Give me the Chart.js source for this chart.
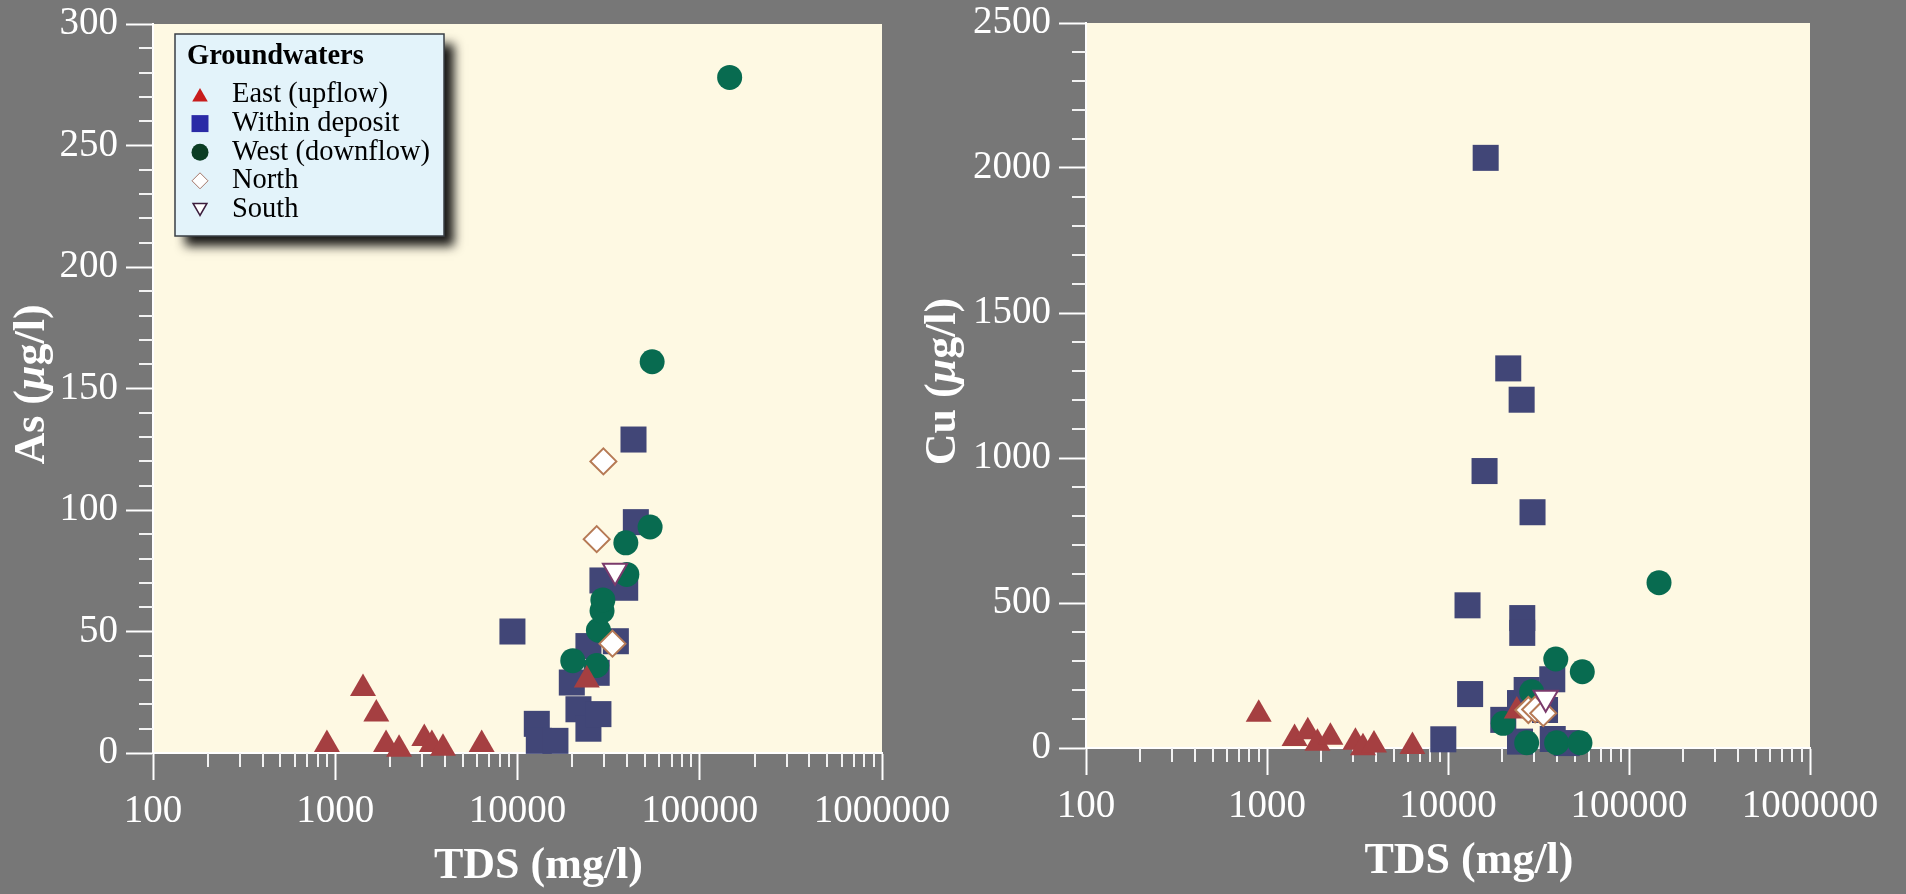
<!DOCTYPE html>
<html>
<head>
<meta charset="utf-8">
<title>Groundwaters - As and Cu against TDS</title>
<script src="https://cdn.jsdelivr.net/npm/chart.js@4.4.1/dist/chart.umd.min.js"></script>
<style>
  html, body { margin: 0; padding: 0; background: #777777; overflow: hidden; }
  canvas { position: absolute; top: 0; }
  #asChart { left: 0; }
  #cuChart { left: 900px; }
</style>
</head>
<body>
<canvas id="asChart" width="953" height="894"></canvas>
<canvas id="cuChart" width="1006" height="894"></canvas>
<script>
// ---- sample data (TDS in mg/l, metals in ug/l) ----
const tdsTicks = [100, 1000, 10000, 100000, 1000000];

// East (upflow) - same samples on both plots
const eastTds = [900, 1420, 1680, 1900, 2240, 3080, 3390, 3900, 6360, 24000];
const eastAs  = [3.5, 26.5, 16, 3.5, 1.5, 6, 3.5, 2, 3.5, 30];
const eastCu  = [116, 33, 56, 16, 37, 20, 1, 10, 5, 128];

// Within deposit
const withinTdsAs = [9380, 12760, 13090, 16150, 19860, 21600, 24500, 24500, 27200, 27800, 29240, 34650, 38990, 43300, 44600];
const withinAs    = [50, 12, 5, 5, 29, 18, 44, 10, 33, 16, 71, 46, 68, 129, 95];
const withinTdsCu = [9420, 12820, 13250, 15920, 16150, 20200, 21520, 25000, 25000, 25520, 25720, 25720, 27200, 29310, 34360, 37680, 37900, 45300];
const withinCu    = [30, 492, 186, 955, 2035, 97, 1309, 155, 22, 1201, 448, 397, 200, 813, 131, 237, 31, 17];

// West (downflow)
const westTdsAs = [20100, 27200, 27800, 29100, 29400, 39300, 39800, 53400, 54800, 145900];
const westAs    = [38, 36, 50.5, 58.5, 63, 86.5, 73.5, 93, 161, 278];
const westTdsCu = [20200, 27200, 28980, 39400, 39800, 53600, 55200, 146500];
const westCu    = [85, 18, 194, 307, 18, 18, 263, 570];

// North / South
const northTdsAs = [27200, 29600, 33200];
const northAs    = [88, 120, 45];
const northTdsCu = [27800, 30300, 33600];
const northCu    = [131, 133, 120];
const southTdsAs = [34300];
const southAs    = [75];
const southTdsCu = [34650];
const southCu    = [173];

const SERIF = "'Liberation Serif', 'Times New Roman', serif";

function pts(xs, ys) {
  return xs.map((x, i) => ({ x: x, y: ys[i] }));
}

// marker styles, plot + legend swatch
const groups = [
  { label: 'East (upflow)', style: 'triangle', r: 15, fill: '#a53f41', line: '#a53f41', bw: 0, order: 3,
    key: { r: 9, fill: '#c81c1c', line: '#c81c1c', bw: 0 } },
  { label: 'Within deposit', style: 'rect', r: 18.4, fill: '#414677', line: '#414677', bw: 0, order: 5,
    key: { r: 12, fill: '#2a2aa6', line: '#2a2aa6', bw: 0 } },
  { label: 'West (downflow)', style: 'circle', r: 12.5, fill: '#086b50', line: '#086b50', bw: 0, order: 4,
    key: { r: 8.5, fill: '#0b3d24', line: '#0b3d24', bw: 0 } },
  { label: 'North', style: 'rectRot', r: 13, fill: '#ffffff', line: '#b67a55', bw: 2, order: 2,
    key: { r: 8, fill: '#ffffff', line: '#a5776a', bw: 1 } },
  { label: 'South', style: 'triangle', rot: 180, r: 14, fill: '#ffffff', line: '#7a3a6c', bw: 2, order: 1,
    key: { r: 8, fill: '#ffffff', line: '#3c1d3c', bw: 1.5 } }
];

function buildSets(series) {
  return groups.map((g, i) => ({
    label: g.label,
    data: series[i],
    order: g.order,
    clip: false,
    pointStyle: g.style,
    pointRotation: g.rot || 0,
    pointRadius: g.r,
    pointHoverRadius: g.r,
    pointBackgroundColor: g.fill,
    pointBorderColor: g.line,
    pointBorderWidth: g.bw,
    showLine: false
  }));
}

// cream plotting area
const plotBg = {
  id: 'plotBg',
  beforeDraw(chart) {
    const a = chart.chartArea, ctx = chart.ctx;
    ctx.save();
    ctx.fillStyle = '#fef9e3';
    ctx.fillRect(a.left, a.top, a.right - a.left, a.bottom - a.top);
    ctx.restore();
  }
};

// short minor ticks on both axes
const minorTicks = {
  id: 'minorTicks',
  beforeDatasetsDraw(chart, args, opts) {
    const ctx = chart.ctx, a = chart.chartArea;
    const xs = chart.scales.x, ys = chart.scales.y;
    ctx.save();
    ctx.strokeStyle = '#f2f2f2';
    ctx.lineWidth = 2;
    ctx.beginPath();
    for (let d = xs.min; d < xs.max; d *= 10) {
      for (let k = 2; k <= 9; k++) {
        const px = Math.round(xs.getPixelForValue(d * k));
        ctx.moveTo(px, a.bottom);
        ctx.lineTo(px, a.bottom + opts.length);
      }
    }
    for (let v = ys.min; v <= ys.max; v += opts.yStep) {
      if (v % opts.yMajor === 0) continue;
      const py = Math.round(ys.getPixelForValue(v));
      ctx.moveTo(a.left, py);
      ctx.lineTo(a.left - opts.length, py);
    }
    ctx.stroke();
    ctx.restore();
  }
};

// axis titles (y title has an italic mu)
const axisTitles = {
  id: 'axisTitles',
  afterDraw(chart, args, opts) {
    const ctx = chart.ctx, a = chart.chartArea;
    ctx.save();
    ctx.fillStyle = '#ffffff';
    ctx.textBaseline = 'middle';
    ctx.textAlign = 'center';
    ctx.font = 'bold 44px ' + SERIF;
    ctx.fillText(opts.x, (a.left + a.right) / 2 + opts.xShift, a.bottom + opts.xGap);

    ctx.translate(a.left - opts.yGap, (a.top + a.bottom) / 2 - 4);
    ctx.rotate(-Math.PI / 2);
    ctx.textAlign = 'left';
    const parts = [
      [opts.y + ' (', 'bold 44px ' + SERIF],
      ['\u03bc', 'italic bold 44px ' + SERIF],
      ['g/l)', 'bold 44px ' + SERIF]
    ];
    let total = 0;
    parts.forEach(p => { ctx.font = p[1]; total += ctx.measureText(p[0]).width; });
    let x = -total / 2;
    parts.forEach(p => {
      ctx.font = p[1];
      ctx.fillText(p[0], x, 0);
      x += ctx.measureText(p[0]).width;
    });
    ctx.restore();
  }
};

// boxed legend with drop shadow, inside the plot
const boxLegend = {
  id: 'boxLegend',
  afterDatasetsDraw(chart, args, opts) {
    if (!opts.show) return;
    const ctx = chart.ctx, a = chart.chartArea;
    const bx = a.left + 22, by = a.top + 10, bw = 269, bh = 202;
    ctx.save();
    ctx.shadowColor = 'rgba(0,0,0,0.9)';
    ctx.shadowBlur = 10;
    ctx.shadowOffsetX = 10;
    ctx.shadowOffsetY = 10;
    ctx.fillStyle = '#e3f3fa';
    ctx.fillRect(bx, by, bw, bh);
    ctx.restore();

    ctx.save();
    ctx.strokeStyle = '#3a3f45';
    ctx.lineWidth = 1.5;
    ctx.strokeRect(bx, by, bw, bh);

    ctx.fillStyle = '#000000';
    ctx.textBaseline = 'middle';
    ctx.textAlign = 'left';
    ctx.font = 'bold 28.5px ' + SERIF;
    ctx.fillText('Groundwaters', bx + 12, by + 23);

    ctx.font = '28.5px ' + SERIF;
    groups.forEach((g, i) => {
      const cy = by + 61 + i * 28.6;
      const k = g.key;
      ctx.fillStyle = k.fill;
      ctx.strokeStyle = k.line;
      ctx.lineWidth = k.bw;
      Chart.helpers.drawPoint(ctx, {
        pointStyle: g.style, rotation: g.rot || 0, radius: k.r, borderWidth: k.bw
      }, bx + 25, cy + (g.style === 'triangle' ? (g.rot ? -2 : 2) : 0));
      ctx.fillStyle = '#000000';
      ctx.fillText(g.label, bx + 57, cy);
    });
    ctx.restore();
  }
};

// keep tick labels from pushing the plot area around
function noOverflow(s) {
  s.paddingTop = 0;
  s.paddingBottom = 0;
  s.paddingLeft = 0;
  s.paddingRight = 0;
}

function makeChart(id, series, yMax, yStep, yMinor, cfg) {
  return new Chart(document.getElementById(id), {
    type: 'scatter',
    data: { datasets: buildSets(series) },
    plugins: [plotBg, minorTicks, axisTitles, boxLegend],
    options: {
      responsive: false,
      animation: false,
      events: [],
      layout: { padding: { top: cfg.top, right: cfg.right, left: 0, bottom: 0 } },
      plugins: {
        legend: { display: false },
        tooltip: { enabled: false },
        minorTicks: { length: 14, yStep: yMinor, yMajor: yStep },
        axisTitles: { x: 'TDS (mg/l)', xShift: 21, xGap: 114, y: cfg.yTitle, yGap: cfg.yGap },
        boxLegend: { show: cfg.legend }
      },
      scales: {
        x: {
          type: 'logarithmic',
          min: 100,
          max: 1000000,
          afterBuildTicks: s => { s.ticks = tdsTicks.map(v => ({ value: v })); },
          afterFit: s => { s.height = cfg.xHeight; noOverflow(s); },
          grid: { drawOnChartArea: false, tickLength: 27, tickColor: '#ffffff', tickWidth: 2 },
          border: { color: '#ffffff', width: 2 },
          ticks: {
            color: '#ffffff', padding: 8, maxRotation: 0, autoSkip: false,
            font: { family: SERIF, size: 39 },
            callback: v => String(v)
          }
        },
        y: {
          min: 0,
          max: yMax,
          afterFit: s => { s.width = cfg.yWidth; noOverflow(s); },
          grid: { drawOnChartArea: false, tickLength: 27, tickColor: '#ffffff', tickWidth: 2 },
          border: { color: '#ffffff', width: 2 },
          ticks: {
            stepSize: yStep, color: '#ffffff', padding: 8,
            font: { family: SERIF, size: 39 },
            callback: v => String(v)
          }
        }
      }
    }
  });
}

makeChart('asChart', [
  pts(eastTds, eastAs),
  pts(withinTdsAs, withinAs),
  pts(westTdsAs, westAs),
  pts(northTdsAs, northAs),
  pts(southTdsAs, southAs)
], 300, 50, 10, { top: 24, right: 71, yWidth: 153, xHeight: 141, yTitle: 'As', yGap: 120, legend: true });

makeChart('cuChart', [
  pts(eastTds, eastCu),
  pts(withinTdsCu, withinCu),
  pts(westTdsCu, westCu),
  pts(northTdsCu, northCu),
  pts(southTdsCu, southCu)
], 2500, 500, 100, { top: 23, right: 96, yWidth: 186, xHeight: 146, yTitle: 'Cu', yGap: 142, legend: false });
</script>
</body>
</html>
